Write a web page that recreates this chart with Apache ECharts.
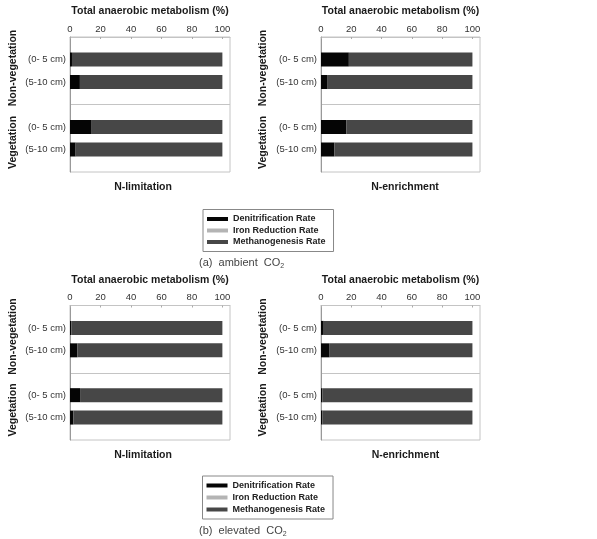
<!DOCTYPE html>
<html><head><meta charset="utf-8">
<script src="https://cdn.jsdelivr.net/npm/echarts@6/dist/echarts.min.js"></script>
<style>html,body{margin:0;padding:0;background:#fff}#c{width:597px;height:539px}</style>
</head><body><div id="c"></div>
<script>
// ---- data ----
var categories = ['', '(0- 5 cm)', '(5-10 cm)', '', '(0- 5 cm)', '(5-10 cm)', ''];
var xTicks = [0, 20, 40, 60, 80, 100];
var seriesNames = ['Denitrification Rate', 'Iron Reduction Rate', 'Methanogenesis Rate'];
// order: Non-veg 0-5, Non-veg 5-10, Veg 0-5, Veg 5-10
var ambientNLimDenit = [1.3, 6.5, 13.8, 3.7];
var ambientNLimIron  = [0, 0, 0, 0];
var ambientNLimMeth  = [98.7, 93.5, 86.2, 96.3];
var ambientNEnrDenit = [18.4, 4.4, 16.7, 8.8];
var ambientNEnrIron  = [0, 0, 0, 0];
var ambientNEnrMeth  = [81.6, 95.6, 83.3, 91.2];
var elevatedNLimDenit = [0.9, 4.8, 6.6, 2.2];
var elevatedNLimIron  = [0, 0, 0, 0];
var elevatedNLimMeth  = [99.1, 95.2, 93.4, 97.8];
var elevatedNEnrDenit = [1.8, 5.7, 0.9, 0.9];
var elevatedNEnrIron  = [0, 0, 0, 0];
var elevatedNEnrMeth  = [98.2, 94.3, 99.1, 99.1];
var panelLabels = ['N-limitation', 'N-enrichment', 'N-limitation', 'N-enrichment'];
var groupLabels = ['Non-vegetation', 'Vegetation'];
var axisTitle = 'Total anaerobic metabolism (%)';

// ---- layout ----
var colors = ['#050505', '#b4b4b4', '#474747'];
var panels = [
  [ambientNLimDenit, ambientNLimIron, ambientNLimMeth],
  [ambientNEnrDenit, ambientNEnrIron, ambientNEnrMeth],
  [elevatedNLimDenit, elevatedNLimIron, elevatedNLimMeth],
  [elevatedNEnrDenit, elevatedNEnrIron, elevatedNEnrMeth]
];
var grids = [
  {left: 70, top: 37, width: 160, height: 135},
  {left: 321, top: 37, width: 159, height: 135},
  {left: 70, top: 305.5, width: 160, height: 134.5},
  {left: 321, top: 305.5, width: 159, height: 134.5}
];
function slots(v) { return ['-', v[0], v[1], '-', v[2], v[3], '-']; }

var legendText = {fontFamily: 'Liberation Sans', fontWeight: 'bold', fontSize: 9, color: '#222', lineHeight: 11};
var option = {
  animation: false,
  backgroundColor: '#fff',
  grid: grids.map(function (g) {
    return {left: g.left, top: g.top, width: g.width, height: g.height, show: true,
      borderColor: '#c4c4c4', borderWidth: 1, backgroundColor: 'transparent'};
  }),
  xAxis: grids.map(function (g, i) {
    return {
      type: 'value', gridIndex: i, position: 'top', min: 0, max: 105, interval: 20,
      name: axisTitle, nameLocation: 'middle', nameGap: 20,
      nameTextStyle: {fontFamily: 'Liberation Sans', fontWeight: 'bold', fontSize: 10.5, color: '#1a1a1a'},
      axisLine: {show: true, lineStyle: {color: '#c4c4c4'}},
      axisTick: {show: true, inside: true, length: 2, lineStyle: {color: '#aaa'}},
      axisLabel: {margin: 3, fontFamily: 'Liberation Sans', fontSize: 9.5, color: '#333', showMaxLabel: false,
        formatter: function (v) { return xTicks.indexOf(v) >= 0 ? String(v) : ''; }},
      splitLine: {show: false}
    };
  }),
  yAxis: grids.map(function (g, i) {
    return {
      type: 'category', gridIndex: i, data: categories, inverse: true, boundaryGap: false,
      axisLine: {show: true, lineStyle: {color: '#999'}},
      axisTick: {show: false},
      axisLabel: {margin: 4, fontFamily: 'Liberation Sans', fontSize: 9.5, color: '#333', interval: 0},
      splitLine: {show: true, interval: function (idx) { return idx === 3; }, lineStyle: {color: '#c4c4c4', width: 1}}
    };
  }),
  legend: [
    {data: seriesNames, orient: 'vertical', left: 203, top: 209.5, icon: 'rect', itemWidth: 21, itemHeight: 4,
     itemGap: 0.5, padding: [4, 8, 4, 4], borderColor: '#888', borderWidth: 1,
     textStyle: legendText, selectedMode: false},
    {data: seriesNames, orient: 'vertical', left: 202.5, top: 476, icon: 'rect', itemWidth: 21, itemHeight: 4,
     itemGap: 1, padding: [4, 8, 4, 4], borderColor: '#888', borderWidth: 1,
     textStyle: legendText, selectedMode: false}
  ],
  series: [],
  graphic: []
};

panels.forEach(function (p, i) {
  p.forEach(function (vals, k) {
    option.series.push({
      type: 'bar', name: seriesNames[k], xAxisIndex: i, yAxisIndex: i, stack: 'p' + i,
      barWidth: 14, data: slots(vals), itemStyle: {color: colors[k]}, silent: true
    });
  });
});

// panel labels and group labels
var labelPos = [
  {x: 143, y: 187, gx: 13, g1: 68, g2: 142.5},
  {x: 405, y: 187, gx: 263, g1: 68, g2: 142.5},
  {x: 143, y: 455.3, gx: 13, g1: 336.5, g2: 410},
  {x: 405.5, y: 455.3, gx: 263, g1: 336.5, g2: 410}
];
labelPos.forEach(function (lp, i) {
  option.graphic.push({type: 'text', x: lp.x, y: lp.y, style: {text: panelLabels[i], x: 0, y: 0,
    align: 'center', verticalAlign: 'middle', font: 'bold 10.5px "Liberation Sans"', fill: '#1a1a1a'}});
  [lp.g1, lp.g2].forEach(function (gy, j) {
    option.graphic.push({type: 'text', x: lp.gx, y: gy, rotation: Math.PI / 2,
      style: {text: groupLabels[j], align: 'center', verticalAlign: 'middle',
        font: 'bold 10.5px "Liberation Sans"', fill: '#1a1a1a'}});
  });
});
// captions
[['(a)  ambient  CO', 263, 199], ['(b)  elevated  CO', 531, 199]].forEach(function (c) {
  option.graphic.push({type: 'text', x: c[2], y: c[1], style: {
    text: '{m|' + c[0] + '}{s|2}', verticalAlign: 'middle', align: 'left',
    rich: {m: {fontFamily: 'Liberation Sans', fontSize: 11, fill: '#444', color: '#444'},
           s: {fontFamily: 'Liberation Sans', fontSize: 7, color: '#444', fill: '#444', padding: [6, 0, 0, 0]}}
  }});
});

var chart = echarts.init(document.getElementById('c'), null, {renderer: 'canvas'});
chart.setOption(option);
</script></body></html>
